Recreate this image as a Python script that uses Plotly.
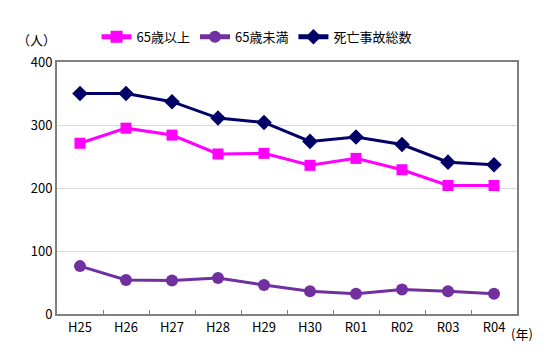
import plotly.graph_objects as go

categories = ["H25", "H26", "H27", "H28", "H29", "H30", "R01", "R02", "R03", "R04"]
over65 = [271, 295, 284, 254, 255, 236, 247, 229, 204, 204]
under65 = [76, 54, 53, 57, 46, 36, 32, 39, 36, 32]
total = [350, 350, 337, 311, 304, 274, 281, 269, 241, 237]
y_ticks = [0, 100, 200, 300, 400]

FONT = "Noto Sans CJK JP, Liberation Sans, sans-serif"

fig = go.Figure()
fig.add_trace(go.Scatter(x=categories, y=over65, name="65歳以上", mode="lines+markers",
                         line=dict(color="#FF00FF", width=3),
                         marker=dict(symbol="square", size=11, color="#FF00FF")))
fig.add_trace(go.Scatter(x=categories, y=under65, name="65歳未満", mode="lines+markers",
                         line=dict(color="#7030A0", width=3),
                         marker=dict(symbol="circle", size=12, color="#7030A0")))
fig.add_trace(go.Scatter(x=categories, y=total, name="死亡事故総数", mode="lines+markers",
                         line=dict(color="#000066", width=3),
                         marker=dict(symbol="diamond", size=12, color="#000066")))

fig.update_layout(
    width=550, height=361,
    margin=dict(l=49, r=41, t=54, b=55, autoexpand=False),
    paper_bgcolor="white", plot_bgcolor="white",
    font=dict(family=FONT, size=13, color="black"),
    showlegend=True,
    legend=dict(orientation="h", x=0.086, xanchor="left", y=1.10, yanchor="middle",
                font=dict(size=13), tracegroupgap=0, itemsizing="constant",
                bgcolor="rgba(0,0,0,0)"),
    xaxis=dict(type="category", range=[-0.5, 9.5], showgrid=False,
               showline=True, linecolor="#808080", linewidth=2, mirror=True,
               ticks="inside", tickson="boundaries", ticklen=4, tickcolor="#808080",
               tickfont=dict(size=13)),
    yaxis=dict(range=[0, 400], tickvals=y_ticks, showgrid=True, gridcolor="#D9D9D9",
               gridwidth=1, showline=True, linecolor="#808080", linewidth=2, mirror=True,
               ticks="", tickfont=dict(size=13), zeroline=False),
    annotations=[
        dict(text="（人）", xref="paper", yref="paper", x=-0.045, y=1.091, xanchor="center",
             yanchor="middle", showarrow=False, font=dict(size=13)),
        dict(text="(年)", xref="paper", yref="paper", x=0.983, y=-0.079, xanchor="left",
             yanchor="middle", showarrow=False, font=dict(size=13)),
    ],
)

fig.write_html("out.html")
